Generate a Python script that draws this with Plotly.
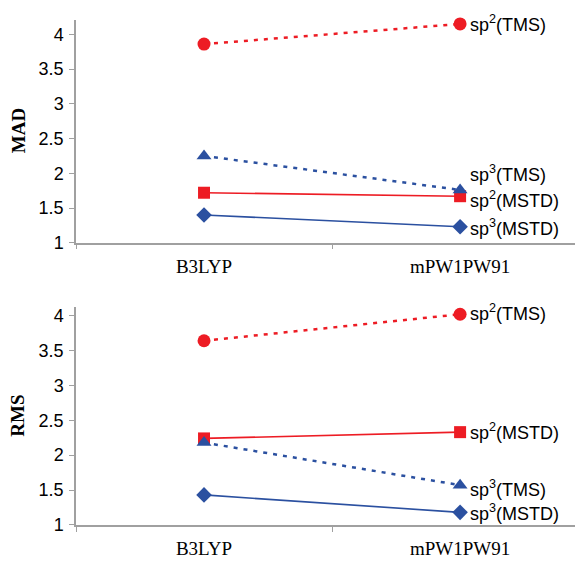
import plotly.graph_objects as go

methods = ["B3LYP", "mPW1PW91"]
series_names = ["sp<sup>2</sup>(MSTD)", "sp<sup>3</sup>(MSTD)", "sp<sup>2</sup>(TMS)", "sp<sup>3</sup>(TMS)"]

mad_sp2_mstd = [1.72, 1.67]
mad_sp3_mstd = [1.40, 1.23]
mad_sp2_tms = [3.86, 4.15]
mad_sp3_tms = [2.25, 1.76]

rms_sp2_mstd = [2.24, 2.33]
rms_sp3_mstd = [1.43, 1.18]
rms_sp2_tms = [3.64, 4.02]
rms_sp3_tms = [2.18, 1.57]

RED = "#ED1C24"
BLUE = "#2B50A0"

styles = [
    dict(color=RED, symbol="square", size=12, dash="solid", width=1.6),
    dict(color=BLUE, symbol="diamond", size=12, dash="solid", width=1.6),
    dict(color=RED, symbol="circle", size=13, dash="4px,6px", width=2.5),
    dict(color=BLUE, symbol="triangle-up", size=13, dash="4px,6px", width=2.5),
]

# the page places the figure 8px in from the top-left corner
OFF = 8
W, H = 583 - OFF, 569 - OFF
top_dom = [1 - (247 - OFF) / H, 1 - (20 - OFF) / H]
bot_dom = [1 - (534.3 - OFF) / H, 1 - (312 - OFF) / H]

panels = [
    ("x", "y", [mad_sp2_mstd, mad_sp3_mstd, mad_sp2_tms, mad_sp3_tms], [-3, -1, 0, 16]),
    ("x2", "y2", [rms_sp2_mstd, rms_sp3_mstd, rms_sp2_tms, rms_sp3_tms], [1, 0, 1.5, -3]),
]

fig = go.Figure()
annotations = []
for xa, ya, data, shifts in panels:
    for name, vals, st, ys in zip(series_names, data, styles, shifts):
        fig.add_trace(go.Scatter(
            x=methods, y=vals, xaxis=xa, yaxis=ya, mode="lines+markers",
            line=dict(color=st["color"], width=st["width"], dash=st["dash"]),
            marker=dict(color=st["color"], symbol=st["symbol"], size=st["size"]),
            showlegend=False, cliponaxis=False,
        ))
        annotations.append(dict(
            x=methods[1], y=vals[1], xref=xa, yref=ya, text=name,
            showarrow=False, xanchor="left", yanchor="middle",
            xshift=8, yshift=ys,
            font=dict(family="Liberation Sans, Arial", size=18, color="black"),
        ))

for dom, title in [(top_dom, "<b>MAD</b>"), (bot_dom, "<b>RMS</b>")]:
    annotations.append(dict(x=0, y=sum(dom) / 2, xref="paper", yref="paper",
                            text=title, textangle=-90, showarrow=False, xshift=-58,
                            xanchor="center", yanchor="middle",
                            font=dict(family="Liberation Serif, Times New Roman", size=19, color="black")))

xcommon = dict(type="category", range=[-0.5, 1.48], showline=True, linecolor="#A0A0A0", linewidth=1.5,
               ticks="outside", tickson="boundaries", ticklen=5, tickcolor="#A0A0A0",
               showgrid=False, zeroline=False, ticklabelstandoff=6,
               tickfont=dict(family="Liberation Serif, Times New Roman", size=19, color="black"))
ycommon = dict(showline=True, linecolor="#A0A0A0", linewidth=1.5, ticks="outside", ticklen=5,
               tickcolor="#A0A0A0", showgrid=False, zeroline=False, dtick=0.5, ticklabelstandoff=2,
               tickfont=dict(family="Liberation Sans, Arial", size=18, color="black"))

fig.update_layout(
    width=W, height=H, plot_bgcolor="white", paper_bgcolor="white",
    margin=dict(l=76 - OFF, r=0, t=0, b=0),
    xaxis=dict(**xcommon, anchor="y", domain=[0, 1]),
    yaxis=dict(**ycommon, anchor="x", range=[1, 4.21], domain=top_dom),
    xaxis2=dict(**xcommon, anchor="y2", domain=[0, 1]),
    yaxis2=dict(**ycommon, anchor="x2", range=[1, 4.13], domain=bot_dom),
    annotations=annotations,
)

fig.write_html("out.html")
